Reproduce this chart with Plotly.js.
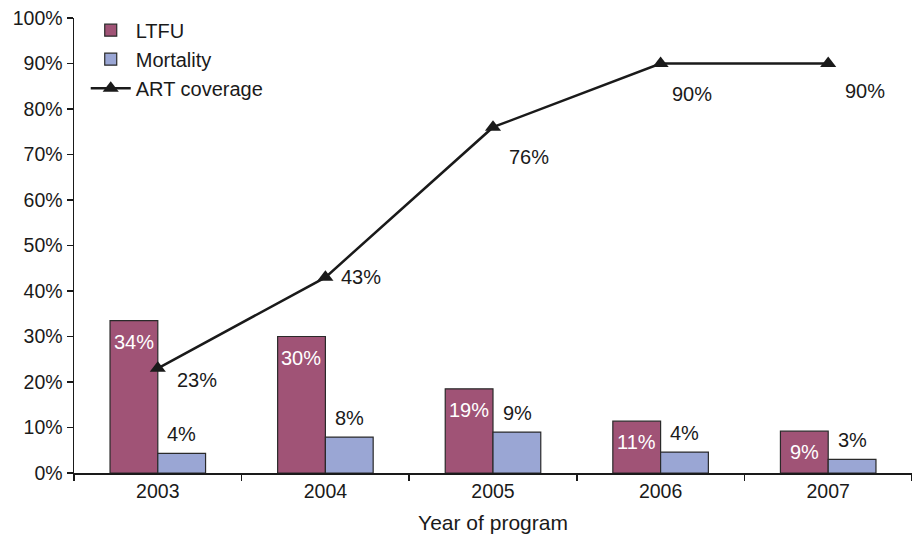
<!DOCTYPE html>
<html>
<head>
<meta charset="utf-8">
<script src="https://cdn.plot.ly/plotly-3.0.1.min.js"></script>
<style>html,body{margin:0;padding:0;background:#fff;}#chart{width:912px;height:538px;}</style>
</head>
<body>
<div id="chart"></div>
<script>
const years = ['2003', '2004', '2005', '2006', '2007'];
const ltfu = [33.5, 30.0, 18.5, 11.4, 9.2];
const mortality = [4.3, 7.9, 9.0, 4.6, 3.0];
const artCoverage = [23, 43, 76, 90, 90];
const ltfuLabels = ['34%', '30%', '19%', '11%', '9%'];
const mortalityLabels = ['4%', '8%', '9%', '4%', '3%'];
const artLabels = ['23%', '43%', '76%', '90%', '90%'];

const FONT = 'Liberation Sans, Arial, sans-serif';
const artLabelShift = [[39, -12], [36, 0], [36, -30], [31, -30], [37, -27]];

const traces = [
  {type: 'bar', name: 'LTFU', x: years, y: ltfu,
   marker: {color: '#A05376', line: {color: '#2a2a2a', width: 1.2}}, hoverinfo: 'skip'},
  {type: 'bar', name: 'Mortality', x: years, y: mortality,
   marker: {color: '#9AA6D4', line: {color: '#2a2a2a', width: 1.2}}, hoverinfo: 'skip'},
  {type: 'scatter', mode: 'lines+markers', name: 'ART coverage', x: years, y: artCoverage,
   line: {color: '#1a1a1a', width: 2.5},
   marker: {symbol: 'triangle-up', size: 14, color: '#1a1a1a'}, hoverinfo: 'skip'}
];

// annotations on a category axis are positioned by category index
const annotations = [];
years.forEach((yr, i) => {
  annotations.push({x: i, y: ltfu[i], xref: 'x', yref: 'y', text: ltfuLabels[i], showarrow: false,
    xshift: -24, yshift: -21, font: {family: FONT, size: 20, color: '#ffffff'}});
  annotations.push({x: i, y: mortality[i], xref: 'x', yref: 'y', text: mortalityLabels[i], showarrow: false,
    xshift: 24, yshift: 19, font: {family: FONT, size: 20, color: '#1a1a1a'}});
  annotations.push({x: i, y: artCoverage[i], xref: 'x', yref: 'y', text: artLabels[i], showarrow: false,
    xshift: artLabelShift[i][0], yshift: artLabelShift[i][1], font: {family: FONT, size: 20, color: '#1a1a1a'}});
});

const layout = {
  width: 912, height: 538,
  margin: {l: 74, r: 0, t: 18, b: 65},
  paper_bgcolor: '#ffffff', plot_bgcolor: '#ffffff',
  font: {family: FONT, size: 20, color: '#1a1a1a'},
  barmode: 'group', bargap: 0.43, bargroupgap: 0,
  showlegend: true,
  legend: {x: 0.014, y: 1.016, xanchor: 'left', yanchor: 'top', bgcolor: 'rgba(0,0,0,0)',
           font: {family: FONT, size: 20, color: '#1a1a1a'}, itemwidth: 40},
  xaxis: {type: 'category', range: [-0.5, 4.5], showline: true, linecolor: '#1a1a1a', linewidth: 1.5,
          ticks: 'outside', tickson: 'boundaries', ticklen: 6, tickcolor: '#1a1a1a', tickwidth: 1.5,
          showgrid: false, zeroline: false,
          tickfont: {family: FONT, size: 19.5, color: '#1a1a1a'},
          title: {text: 'Year of program', font: {family: FONT, size: 21, color: '#1a1a1a'}, standoff: 14}},
  yaxis: {range: [0, 100], dtick: 10, ticksuffix: '%', showline: true, linecolor: '#1a1a1a', linewidth: 1.5,
          ticks: 'outside', ticklen: 6, tickcolor: '#1a1a1a', tickwidth: 1.5,
          showgrid: false, zeroline: false,
          tickfont: {family: FONT, size: 19.5, color: '#1a1a1a'}},
  annotations: annotations
};

Plotly.newPlot('chart', traces, layout, {displayModeBar: false, staticPlot: true});
</script>
</body>
</html>
